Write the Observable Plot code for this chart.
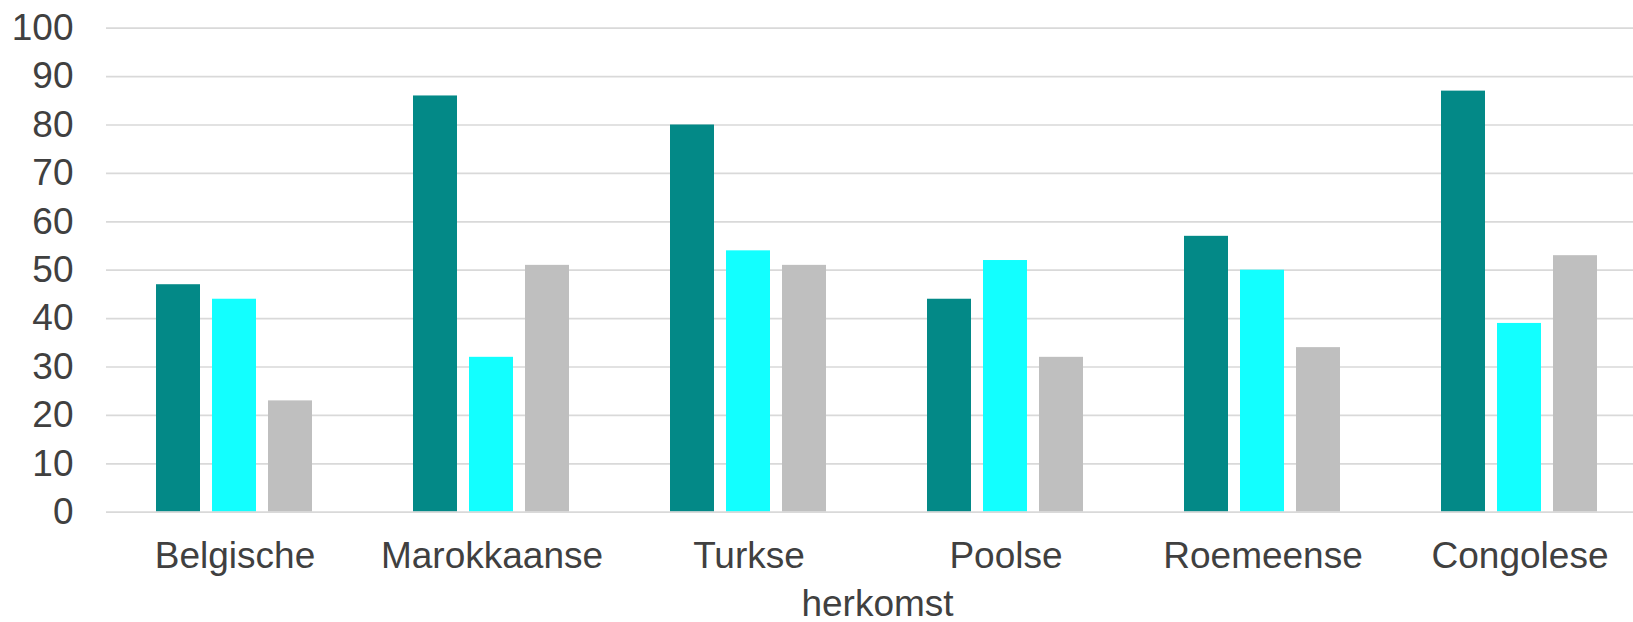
<!DOCTYPE html>
<html>
<head>
<meta charset="utf-8">
<script src="https://cdn.jsdelivr.net/npm/d3@7"></script>
<script src="https://cdn.jsdelivr.net/npm/@observablehq/plot@0.6"></script>
<style>
  html, body { margin: 0; padding: 0; background: #fff; }
  svg { display: block; }
</style>
</head>
<body>
<div id="chart"></div>
<script>
const categories = ["Belgische", "Marokkaanse", "Turkse", "Poolse", "Roemeense", "Congolese"];
const seriesNames = ["reeks 1", "reeks 2", "reeks 3"];
const seriesColors = ["#038987", "#12FFFF", "#BFBFBF"];
const series1 = [47, 86, 80, 44, 57, 87];
const series2 = [44, 32, 54, 52, 50, 39];
const series3 = [23, 51, 51, 32, 34, 53];
const yTicks = [0, 10, 20, 30, 40, 50, 60, 70, 80, 90, 100];
const xLabel = "herkomst";

const allSeries = [series1, series2, series3];
const data = [];
categories.forEach((c, i) => {
  seriesNames.forEach((s, j) => {
    data.push({ herkomst: c, serie: s, waarde: allSeries[j][i] });
  });
});

const chart = Plot.plot({
  width: 1633,
  height: 622,
  marginTop: 27.7,
  marginBottom: 110.3,
  marginLeft: 106,
  marginRight: -15,
  style: { fontFamily: "'Liberation Sans', Arial, sans-serif", fontSize: "37px", color: "#404040", background: "#fff" },
  fx: { domain: categories, padding: 0, label: xLabel },
  x: { domain: seriesNames, paddingInner: 0.2105, paddingOuter: 0.8597, axis: null },
  y: { domain: [0, 100], ticks: yTicks, label: null },
  color: { domain: seriesNames, range: seriesColors },
  marks: [
    Plot.ruleY(yTicks.filter(d => d !== 0), { stroke: "#d9d9d9", strokeWidth: 1.7 }),
    Plot.barY(data, { fx: "herkomst", x: "serie", y: "waarde", fill: "serie" }),
    Plot.ruleY([0], { stroke: "#d9d9d9", strokeWidth: 1.7 }),
    Plot.axisY({ ticks: yTicks, tickSize: 0, tickPadding: 33, label: null, fill: "#404040" }),
    Plot.axisFx({ anchor: "bottom", tickSize: 0, tickPadding: 30, label: xLabel, labelAnchor: "center", labelOffset: 104, fill: "#404040" })
  ]
});
document.getElementById("chart").appendChild(chart);
</script>
</body>
</html>
